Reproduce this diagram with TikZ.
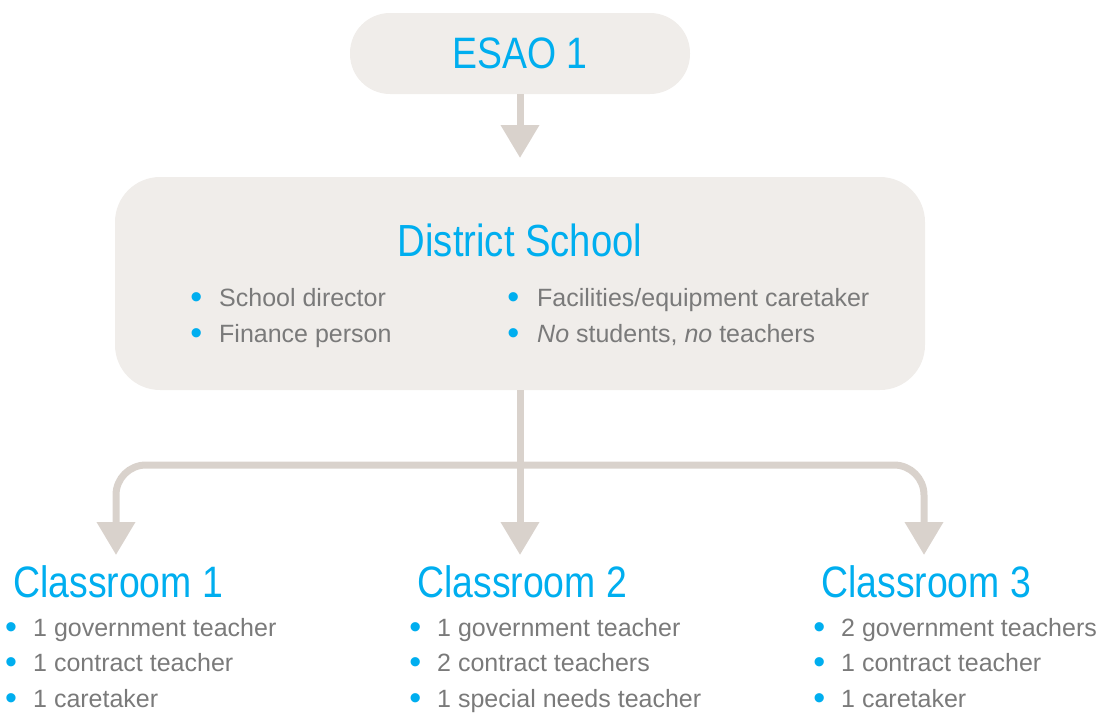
\documentclass[tikz,border=0pt]{standalone}
\usepackage{fontspec}
\setmainfont{Liberation Sans}
\newfontfamily\headfont[FakeStretch=0.85]{Liberation Sans}
\usetikzlibrary{arrows.meta}
\definecolor{esblue}{HTML}{00AEEF}
\definecolor{esgray}{HTML}{7A7A7A}
\definecolor{boxfill}{HTML}{F0EDEA}
\definecolor{arrcol}{HTML}{D9D2CC}
\newcommand{\bdot}{\makebox[0pt][c]{\fontsize{34}{34}\selectfont\color{esblue}\raisebox{-2pt}{•}}}
\newcommand{\bitem}[2][22pt]{\bdot\hspace{#1}#2}
\begin{document}
\begin{tikzpicture}[x=1pt,y=-1pt,
  box/.style={fill=boxfill, draw=none, inner sep=0},
  head/.style={text=esblue, font=\headfont\fontsize{44}{44}\selectfont, inner sep=0},
  list/.style={text=esgray, font=\fontsize{25}{35.5}\selectfont, inner sep=0, anchor=base west, align=left},
  conn/.style={draw=arrcol, line width=7pt, -{Triangle[width=37pt,length=33pt]}}]
\useasboundingbox (0,0) rectangle (1104,715);
% boxes
\node[box, head, minimum width=340pt, minimum height=81pt, rounded corners=40pt] (esao) at (520,53.5) {ESAO 1};
\node[box, minimum width=810pt, minimum height=213pt, rounded corners=45pt] (district) at (520,283.5) {};
\node[head, anchor=base, font=\headfont\fontsize{45}{45}\selectfont] (dtitle) at (520,256) {District School};
% base anchor of a multi-line node = baseline of its last line
\node[list] (dl1) at (196,342) {\bitem[23pt]{School director}\\ \bitem[23pt]{Finance person}};
\node[list] (dl2) at (513,342) {\bitem[24pt]{Facilities/equipment caretaker}\\ \bitem[24pt]{\textit{No} students, \textit{no} teachers}};
% classrooms
\node[head, anchor=base west] (c1) at (13,597) {Classroom 1};
\node[head, anchor=base west] (c2) at (417,597) {Classroom 2};
\node[head, anchor=base west] (c3) at (821,597) {Classroom 3};
\node[list, text depth=0pt] (l1) at (11,707) {\bitem{1 government teacher}\\ \bitem{1 contract teacher}\\ \bitem{1 caretaker}};
\node[list, text depth=0pt] (l2) at (415,707) {\bitem{1 government teacher}\\ \bitem{2 contract teachers}\\ \bitem{1 special needs teacher}};
\node[list, text depth=0pt] (l3) at (819,707) {\bitem{2 government teachers}\\ \bitem{1 contract teacher}\\ \bitem{1 caretaker}};
% connectors
\coordinate (a0) at (520,158);
\coordinate (split) at (520,465);
\coordinate (t1) at (116,555);
\coordinate (t2) at (520,555);
\coordinate (t3) at (924,555);
\draw[conn] (esao.south) -- (a0);
\draw[conn] (district.south) -- (t2);
\draw[conn, rounded corners=30pt] (split) -| (t1);
\draw[conn, rounded corners=30pt] (split) -| (t3);
\end{tikzpicture}
\end{document}
